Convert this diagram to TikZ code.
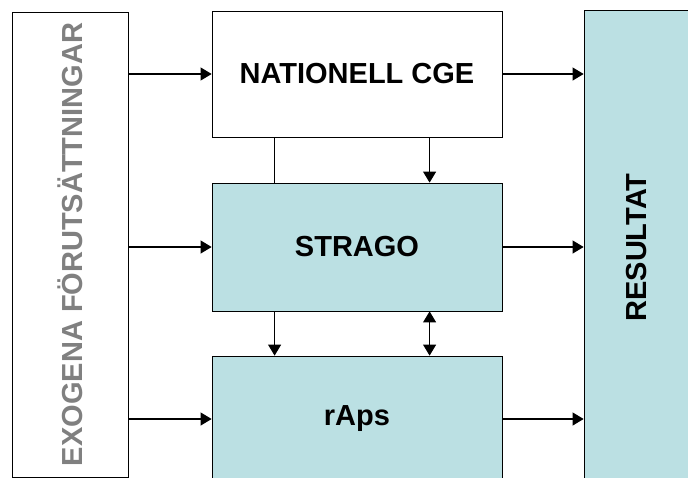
\documentclass[tikz,border=0pt]{standalone}
\usepackage{fontspec}
\setmainfont{Liberation Sans}
\usepackage{graphicx}
\usetikzlibrary{arrows.meta}
\definecolor{modelblue}{RGB}{187,224,227}
\definecolor{exogray}{RGB}{128,128,128}

\begin{document}
\begin{tikzpicture}[x=1pt,y=-1pt,
  box/.style={draw=black,line width=0.8pt,inner sep=0pt,
    font=\fontsize{29}{34}\selectfont\bfseries},
  model/.style={box,fill=modelblue,minimum width=290pt},
  flow/.style={line width=1.1pt,-{Triangle[length=11pt,width=13pt]}},
  link/.style={line width=1.1pt}]
  \useasboundingbox (0,0) rectangle (688,477);
  \clip (0,0) rectangle (688,477);
  \fill[white] (0,0) rectangle (688,477);
  % side boxes
  \node[box,fill=white,text=exogray,minimum width=116pt,minimum height=465pt]
    (exo) at (70,244.5) {\rotatebox{90}{EXOGENA FÖRUTSÄTTNINGAR}};
  \node[box,fill=modelblue,minimum width=106pt,minimum height=474pt]
    (res) at (637,247.5) {\rotatebox{90}{RESULTAT}};
  % models
  \node[box,fill=white,minimum width=290pt,minimum height=126pt]
    (cge) at (357,74) {NATIONELL CGE};
  \node[model,minimum height=128pt] (strago) at (357,247) {STRAGO};
  \node[model,minimum height=126pt] (raps) at (357,419) {rAps};
  % inputs and outputs
  \foreach \m in {cge,strago,raps}{
    \draw[flow] (exo.east |- \m.west) -- (\m.west);
    \draw[flow] (\m.east) -- (\m.east -| res.west);
  }
  % links between the models
  \draw[link] ([xshift=63pt]cge.south west) -- ([xshift=63pt]strago.north west);
  \draw[flow] ([xshift=218pt]cge.south west) -- ([xshift=218pt]strago.north west);
  \draw[flow] ([xshift=63pt]strago.south west) -- ([xshift=63pt]raps.north west);
  \draw[flow,{Triangle[length=11pt,width=13pt]}-{Triangle[length=11pt,width=13pt]}]
    ([xshift=218pt]strago.south west) -- ([xshift=218pt]raps.north west);
\end{tikzpicture}
\end{document}
